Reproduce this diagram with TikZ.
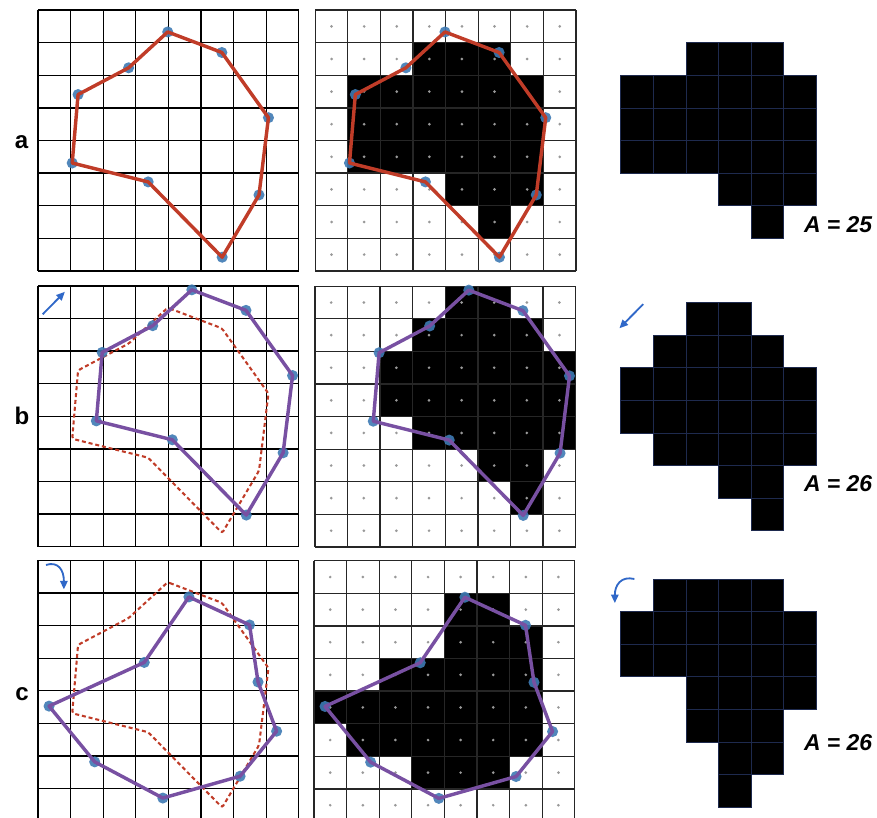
\documentclass[tikz,border=0pt]{standalone}
\usepackage{fontspec}
\setmainfont{Liberation Sans}
\usepackage{tikz}
\usetikzlibrary{arrows.meta}

\definecolor{polyred}{RGB}{192,60,40}
\definecolor{polypurple}{RGB}{120,80,162}
\definecolor{vtxblue}{RGB}{62,122,180}
\definecolor{arrowblue}{RGB}{48,104,200}
\definecolor{cellnavy}{RGB}{30,42,78}

% vertex lists, cell units, y pointing down
\newcommand\polyA{3.98/0.67, 5.64/1.30, 7.07/3.30, 6.78/5.67, 5.65/7.58, 3.38/5.27, 1.05/4.69, 1.23/2.59, 2.78/1.77}
\newcommand\polyC{4.63/1.12, 6.49/1.98, 6.75/3.73, 7.32/5.24, 6.20/6.62, 3.83/7.29, 1.74/6.18, 0.34/4.47, 3.26/3.13}

\begin{document}
\begin{tikzpicture}[x=1cm, y=-1cm,
  gridline/.style={black, line width=1.1pt},
  midgrid/.style={black!85, line width=1.1pt},
  cdot/.style={fill=black!40},
  vtx/.style={fill=vtxblue, opacity=0.9},
  redline/.style={draw=polyred, line width=3pt, line join=round},
  purpline/.style={draw=polypurple, line width=3pt, line join=round},
  ghost/.style={draw=polyred, line width=1.8pt, dash pattern=on 3.5pt off 2.5pt, rounded corners=2pt},
  rcell/.style={fill=black, draw=cellnavy, line width=0.7pt},
  move/.style={arrowblue, line width=1.6pt, -{Triangle[length=7.5pt, width=6.5pt]}},
  rowlab/.style={font=\fontsize{21}{25}\selectfont\bfseries, inner sep=0pt},
  arealab/.style={font=\fontsize{20}{24}\selectfont\bfseries\itshape, inner sep=0pt}]
  \useasboundingbox (0,0) rectangle (26.902,25.092);
  \clip (0,0) rectangle (26.902,25.092);

  % row a, polygon
  \begin{scope}[shift={(1.165,0.31)}]
    \foreach \i in {0,...,8} {
      \draw[gridline] (\i,0) -- (\i,8);
      \draw[gridline] (0,\i) -- (8,\i);
    }
    \foreach \px/\py [count=\i] in \polyA {\coordinate (v\i) at (\px,\py);}
    \foreach \i in {1,...,9} \fill[vtx] (v\i) circle (0.17);
    \draw[redline] (v1) -- (v2) -- (v3) -- (v4) -- (v5) -- (v6) -- (v7) -- (v8) -- (v9) -- cycle;
  \end{scope}

  % row a, sampled
  \begin{scope}[shift={(9.67,0.31)}]
    \foreach \r/\a/\b in {1/3/5, 2/1/6, 3/1/6, 4/1/6, 5/4/6, 6/5/5}
      \fill[black] (\a,\r) rectangle ({\b+1},{\r+1});
    \foreach \i in {0,...,8} {
      \draw[midgrid] (\i,0) -- (\i,8);
      \draw[midgrid] (0,\i) -- (8,\i);
    }
    \foreach \i in {0,...,7}
      \foreach \j in {0,...,7}
        \fill[cdot] ({\i+0.5},{\j+0.5}) circle (0.045);
    \foreach \px/\py [count=\i] in \polyA {\coordinate (v\i) at (\px,\py);}
    \foreach \i in {1,...,9} \fill[vtx] (v\i) circle (0.17);
    \draw[redline] (v1) -- (v2) -- (v3) -- (v4) -- (v5) -- (v6) -- (v7) -- (v8) -- (v9) -- cycle;
  \end{scope}

  % row a, pixels
  \begin{scope}[shift={(18.04,1.31)}]
    \foreach \r/\a/\b in {0/3/5, 1/1/6, 2/1/6, 3/1/6, 4/4/6, 5/5/5}
      \foreach \c in {\a,...,\b}
        \draw[rcell] (\c,\r) rectangle ++(1,1);
  \end{scope}

  % row b, polygon
  \begin{scope}[shift={(1.165,8.77)}]
    \foreach \i in {0,...,8} {
      \draw[gridline] (\i,0) -- (\i,8);
      \draw[gridline] (0,\i) -- (8,\i);
    }
    \foreach \px/\py [count=\i] in \polyA {\coordinate (v\i) at (\px,\py);}
    \draw[ghost] (v1) -- (v2) -- (v3) -- (v4) -- (v5) -- (v6) -- (v7) -- (v8) -- (v9) -- cycle;
    \begin{scope}[shift={(0.74,-0.55)}]
      \foreach \px/\py [count=\i] in \polyA {\coordinate (w\i) at (\px,\py);}
    \end{scope}
    \foreach \i in {1,...,9} \fill[vtx] (w\i) circle (0.17);
    \draw[purpline] (w1) -- (w2) -- (w3) -- (w4) -- (w5) -- (w6) -- (w7) -- (w8) -- (w9) -- cycle;
  \end{scope}

  % row b, sampled
  \begin{scope}[shift={(9.66,8.78)}]
    \foreach \r/\a/\b in {0/4/5, 1/3/6, 2/2/7, 3/2/7, 4/3/7, 5/5/6, 6/6/6}
      \fill[black] (\a,\r) rectangle ({\b+1},{\r+1});
    \foreach \i in {0,...,8} {
      \draw[midgrid] (\i,0) -- (\i,8);
      \draw[midgrid] (0,\i) -- (8,\i);
    }
    \foreach \i in {0,...,7}
      \foreach \j in {0,...,7}
        \fill[cdot] ({\i+0.5},{\j+0.5}) circle (0.045);
    \begin{scope}[shift={(0.74,-0.55)}]
      \foreach \px/\py [count=\i] in \polyA {\coordinate (w\i) at (\px,\py);}
    \end{scope}
    \foreach \i in {1,...,9} \fill[vtx] (w\i) circle (0.17);
    \draw[purpline] (w1) -- (w2) -- (w3) -- (w4) -- (w5) -- (w6) -- (w7) -- (w8) -- (w9) -- cycle;
  \end{scope}

  % row b, pixels
  \begin{scope}[shift={(18.04,9.285)}]
    \foreach \r/\a/\b in {0/3/4, 1/2/5, 2/1/6, 3/1/6, 4/2/6, 5/4/5, 6/5/5}
      \foreach \c in {\a,...,\b}
        \draw[rcell] (\c,\r) rectangle ++(1,1);
  \end{scope}

  % row c, polygon
  \begin{scope}[shift={(1.165,17.19)}]
    \foreach \i in {0,...,8} {
      \draw[gridline] (\i,0) -- (\i,8);
      \draw[gridline] (0,\i) -- (8,\i);
    }
    \foreach \px/\py [count=\i] in \polyA {\coordinate (v\i) at (\px,\py);}
    \draw[ghost] (v1) -- (v2) -- (v3) -- (v4) -- (v5) -- (v6) -- (v7) -- (v8) -- (v9) -- cycle;
    \foreach \px/\py [count=\i] in \polyC {\coordinate (u\i) at (\px,\py);}
    \foreach \i in {1,...,9} \fill[vtx] (u\i) circle (0.17);
    \draw[purpline] (u1) -- (u2) -- (u3) -- (u4) -- (u5) -- (u6) -- (u7) -- (u8) -- (u9) -- cycle;
  \end{scope}

  % row c, sampled
  \begin{scope}[shift={(9.63,17.2)}]
    \foreach \r/\a/\b in {1/4/5, 2/4/6, 3/2/6, 4/0/6, 5/1/6, 6/3/5}
      \fill[black] (\a,\r) rectangle ({\b+1},{\r+1});
    \foreach \i in {0,...,8} {
      \draw[midgrid] (\i,0) -- (\i,8);
      \draw[midgrid] (0,\i) -- (8,\i);
    }
    \foreach \i in {0,...,7}
      \foreach \j in {0,...,7}
        \fill[cdot] ({\i+0.5},{\j+0.5}) circle (0.045);
    \foreach \px/\py [count=\i] in \polyC {\coordinate (u\i) at (\px,\py);}
    \foreach \i in {1,...,9} \fill[vtx] (u\i) circle (0.17);
    \draw[purpline] (u1) -- (u2) -- (u3) -- (u4) -- (u5) -- (u6) -- (u7) -- (u8) -- (u9) -- cycle;
  \end{scope}

  % row c, pixels
  \begin{scope}[shift={(18.04,17.76)}]
    \foreach \r/\a/\b in {0/2/5, 1/1/6, 2/1/6, 3/3/6, 4/3/5, 5/4/5, 6/4/4}
      \foreach \c in {\a,...,\b}
        \draw[rcell] (\c,\r) rectangle ++(1,1);
  \end{scope}

  % motion arrows
  \coordinate (shiftfrom) at (1.31,9.64);
  \coordinate (shiftto) at (1.99,8.95);
  \coordinate (backfrom) at (19.73,9.33);
  \coordinate (backto) at (19.0,10.07);
  \coordinate (turnfrom) at (1.41,17.33);
  \coordinate (turnto) at (1.96,18.08);
  \coordinate (unturnfrom) at (19.46,17.76);
  \coordinate (unturnto) at (18.86,18.5);
  \draw[move] (shiftfrom) -- (shiftto);
  \draw[move] (backfrom) -- (backto);
  \draw[move] (turnfrom) .. controls (1.78,17.21) and (1.96,17.48) .. (turnto);
  \draw[move] (unturnfrom) .. controls (19.05,17.66) and (18.86,17.95) .. (unturnto);

  % labels
  \node[rowlab] (laba) at (0.66,4.36) {a};
  \node[rowlab] (labb) at (0.675,12.76) {b};
  \node[rowlab] (labc) at (0.675,21.29) {c};
  \node[arealab] (areaa) at (25.71,6.9) {A = 25};
  \node[arealab] (areab) at (25.71,14.82) {A = 26};
  \node[arealab] (areac) at (25.71,22.78) {A = 26};
\end{tikzpicture}
\end{document}
